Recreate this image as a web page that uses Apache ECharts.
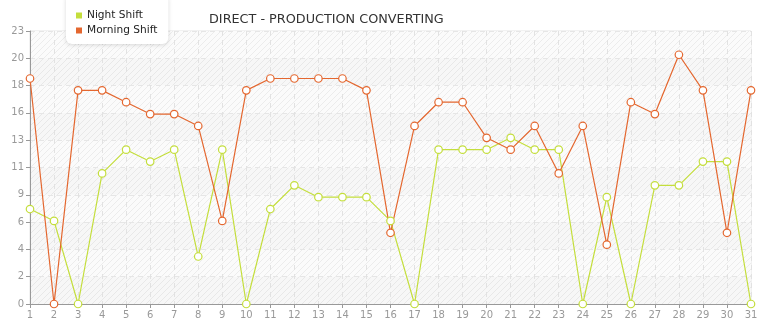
<!DOCTYPE html>
<html><head><meta charset="utf-8">
<script src="https://cdn.jsdelivr.net/npm/echarts@6/dist/echarts.min.js"></script>
<style>html,body{margin:0;padding:0;background:#fff}#c{width:765px;height:320px}</style>
</head><body><div id="c"></div>
<script>
var days = ['1','2','3','4','5','6','7','8','9','10','11','12','13','14','15','16','17','18','19','20','21','22','23','24','25','26','27','28','29','30','31'];
var nightShift = [8,7,0,11,13,12,13,4,13,0,8,10,9,9,9,7,0,13,13,13,14,13,13,0,9,0,10,10,12,12,0];
var morningShift = [19,0,18,18,17,16,16,15,7,18,19,19,19,19,18,6,15,17,17,14,13,15,11,15,5,17,16,21,18,6,18];
var yMax = 23;

function hatch(bg){
  var c = document.createElement('canvas'); c.width = 6; c.height = 6;
  var g = c.getContext('2d');
  g.fillStyle = bg; g.fillRect(0,0,6,6);
  g.strokeStyle = 'rgba(0,0,0,0.06)'; g.lineWidth = 1;
  g.beginPath(); g.moveTo(0,6); g.lineTo(6,0); g.moveTo(-1,1); g.lineTo(1,-1); g.moveTo(5,7); g.lineTo(7,5); g.stroke();
  return {image: c, repeat: 'repeat'};
}

var chart = echarts.init(document.getElementById('c'));
chart.setOption({
  animation: false,
  color: ['#c4de3c', '#e4672f'],
  title: {text: 'DIRECT - PRODUCTION CONVERTING', left: 204, top: 8,
    textStyle: {fontFamily: 'DejaVu Sans', fontSize: 12.8, fontWeight: 'normal', color: '#333'}},
  legend: {orient: 'vertical', left: 66, top: -6, padding: [16, 11, 8, 10], itemGap: 4,
    backgroundColor: '#fff', borderRadius: 6,
    shadowColor: 'rgba(0,0,0,0.15)', shadowBlur: 4, shadowOffsetY: 1,
    icon: 'rect', itemWidth: 6, itemHeight: 6,
    textStyle: {fontFamily: 'DejaVu Sans', fontSize: 10.6, color: '#222'},
    data: [
      {name: 'Night Shift', itemStyle: {color: '#c4de3c', borderWidth: 0}},
      {name: 'Morning Shift', itemStyle: {color: '#e4672f', borderWidth: 0}}
    ]},
  grid: {left: 30, right: 14, top: 31, bottom: 12, show: true, borderColor: '#e4e4e4', borderWidth: 1},
  xAxis: {type: 'category', data: days, boundaryGap: false,
    axisLine: {lineStyle: {color: '#999'}},
    axisTick: {show: true, length: 4, lineStyle: {color: '#999'}},
    axisLabel: {color: '#999', fontFamily: 'DejaVu Sans', fontSize: 10, margin: 6, interval: 0},
    splitLine: {show: true, lineStyle: {color: '#e2e2e2', type: [5, 4]}}},
  yAxis: {type: 'value', min: 0, max: yMax, interval: 2.3,
    axisLine: {show: true, lineStyle: {color: '#999'}},
    axisTick: {show: true, length: 4, lineStyle: {color: '#999'}},
    axisLabel: {color: '#999', fontFamily: 'DejaVu Sans', fontSize: 10, margin: 6,
      formatter: function(v){ return String(Math.floor(v + 1e-9)); }},
    splitLine: {show: true, lineStyle: {color: '#e6e6e6', type: [5, 4]}},
    splitArea: {show: true, areaStyle: {color: [hatch('#f7f7f7'), hatch('#fbfbfb')]}}},
  series: [
    {name: 'Night Shift', type: 'line', data: nightShift, symbol: 'circle', symbolSize: 7.5,
      itemStyle: {color: '#fff', borderColor: '#c4de3c', borderWidth: 1.2},
      lineStyle: {color: '#c4de3c', width: 1.2}},
    {name: 'Morning Shift', type: 'line', data: morningShift, symbol: 'circle', symbolSize: 7.5,
      itemStyle: {color: '#fff', borderColor: '#e4672f', borderWidth: 1.2},
      lineStyle: {color: '#e4672f', width: 1.2}}
  ]
});
</script></body></html>
